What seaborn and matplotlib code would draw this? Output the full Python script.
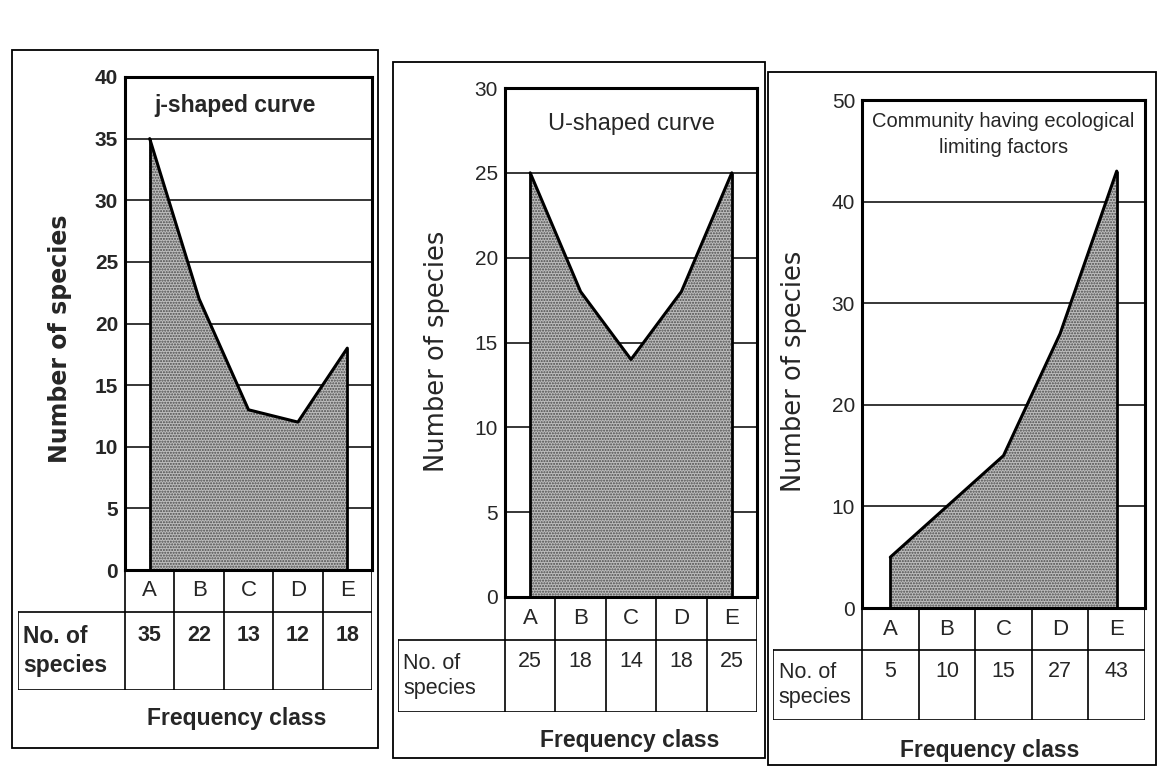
import numpy as np
import pandas as pd
import seaborn as sns
import matplotlib.pyplot as plt
from matplotlib.patches import Rectangle

classes = ["A", "B", "C", "D", "E"]
j_shaped = [35, 22, 13, 12, 18]
u_shaped = [25, 18, 14, 18, 25]
limiting = [5, 10, 15, 27, 43]
titles = ["j-shaped curve", "U-shaped curve", "Community having ecological\nlimiting factors"]
y_max = [40, 30, 50]
y_step = [5, 5, 10]

W, H = 1159, 774
NARROW = ["Liberation Sans Narrow", "Liberation Sans", "DejaVu Sans"]

# pixel layout of each panel: outer box, plot box, label column, table rows
panels = [
    dict(outer=(12, 50, 378, 748), plot=(125, 77, 372, 570), lab=18, row1=42, row2=78, xl=237, yl_f=718,
         title_xy=(0.12, 0.965), title_ha="left", title_w="bold", title_fs=16.5, bold=True,
         ylab=(-0.263, 0.47), ylab_fs=17, ls=1.2),
    dict(outer=(393, 62, 765, 758), plot=(505, 88, 757, 597), lab=398, row1=43, row2=72, xl=630, yl_f=740,
         title_xy=(0.5, 0.95), title_ha="center", title_w="normal", title_fs=17, bold=False,
         ylab=(-0.27, 0.483), ylab_fs=18.5, ls=1.2),
    dict(outer=(768, 72, 1156, 765), plot=(862, 100, 1145, 608), lab=773, row1=42, row2=70, xl=990, yl_f=750,
         title_xy=(0.5, 0.976), title_ha="center", title_w="normal", title_fs=14.5, bold=False,
         ylab=(-0.24, 0.465), ylab_fs=18.5, ls=1.45),
]

sns.set_theme(style="white")
plt.rcParams["font.family"] = ["Liberation Sans", "DejaVu Sans"]

fig = plt.figure(figsize=(W / 100, H / 100), dpi=100)
fig.patch.set_facecolor("white")


def fx(x):
    return x / W


def fy(y):
    return 1 - y / H


for i, (vals, title, ymax, step, p) in enumerate(zip([j_shaped, u_shaped, limiting], titles, y_max, y_step, panels)):
    l, t, r, b = p["plot"]
    ax = fig.add_axes([fx(l), fy(b), (r - l) / W, (b - t) / H])
    df = pd.DataFrame({"cls": np.arange(len(classes)), "n": vals})
    wt = "bold" if p["bold"] else "normal"

    ticks = np.arange(0, ymax + 1, step)
    for tk in ticks[1:-1]:
        ax.axhline(tk, color="black", lw=1.1, zorder=1)

    ax.fill_between(df["cls"], 0, df["n"], facecolor="#bdbdbd", edgecolor="#4a4a4a",
                    hatch="......", linewidth=0, zorder=2)
    sns.lineplot(data=df, x="cls", y="n", color="black", lw=2.2, ax=ax, zorder=3)
    ax.vlines([df["cls"].iloc[0], df["cls"].iloc[-1]], 0, [vals[0], vals[-1]],
              color="black", lw=2.0, zorder=3)

    ax.set_xlim(-0.5, len(classes) - 0.5)
    ax.set_ylim(0, ymax)
    ax.set_yticks(ticks)
    ax.set_xticks([])
    ax.tick_params(axis="y", length=0, pad=5)
    for lab in ax.get_yticklabels():
        lab.set_fontweight(wt)
        lab.set_family(NARROW)
        lab.set_fontsize(15)
    for s in ax.spines.values():
        s.set_visible(True)
        s.set_color("black")
        s.set_linewidth(2.2)
    ax.set_xlabel("")
    ax.set_ylabel("Number of species", fontsize=p["ylab_fs"], fontweight=wt, va="center",
                  family=["DejaVu Sans"])
    ax.yaxis.set_label_coords(*p["ylab"])
    tfam = NARROW if i == 2 else ["Liberation Sans", "DejaVu Sans"]
    ax.text(p["title_xy"][0], p["title_xy"][1], title, transform=ax.transAxes,
            ha=p["title_ha"], va="top", fontsize=p["title_fs"], fontweight=p["title_w"],
            linespacing=p["ls"], family=tfam)

    # table under the plot
    colw = (r - l) / len(classes)
    lw_units = (l - p["lab"]) / colw
    tb = b + p["row1"] + p["row2"]
    tax = fig.add_axes([fx(p["lab"]), fy(tb), (r - p["lab"]) / W, (tb - b) / H])
    tax.set_xlim(-0.5 - lw_units, len(classes) - 0.5)
    tax.set_ylim(tb, b)
    tax.axis("off")
    mid = b + p["row1"]
    tax.plot([-0.5 - lw_units, len(classes) - 0.5], [mid, mid], color="black", lw=1.2)
    tax.plot([-0.5 - lw_units, len(classes) - 0.5], [tb, tb], color="black", lw=1.2)
    for k in range(len(classes) + 1):
        tax.plot([k - 0.5, k - 0.5], [b, tb], color="black", lw=1.2)
    tax.plot([-0.5 - lw_units] * 2, [mid, tb], color="black", lw=1.2)
    for k, (c, v) in enumerate(zip(classes, vals)):
        tax.text(k, b + p["row1"] / 2, c, ha="center", va="center", fontsize=16)
        tax.text(k, mid + p["row2"] * 0.3, str(v), ha="center", va="center", fontsize=15.5,
                 fontweight=wt)
    tax.text(-0.5 - lw_units + 0.1, mid + p["row2"] / 2, "No. of\nspecies", ha="left", va="center",
             fontsize=16.5 if p["bold"] else 15.5, fontweight=wt, linespacing=1.3)

    fig.text(fx(p["xl"]), fy(p["yl_f"]), "Frequency class", ha="center", va="center",
             fontsize=16.5, fontweight="bold")

    ol, ot, orr, ob = p["outer"]
    fig.add_artist(Rectangle((fx(ol), fy(ob)), (orr - ol) / W, (ob - ot) / H,
                             transform=fig.transFigure, fill=False, edgecolor="black", lw=1.3))

fig.savefig("out.png", dpi=100)
